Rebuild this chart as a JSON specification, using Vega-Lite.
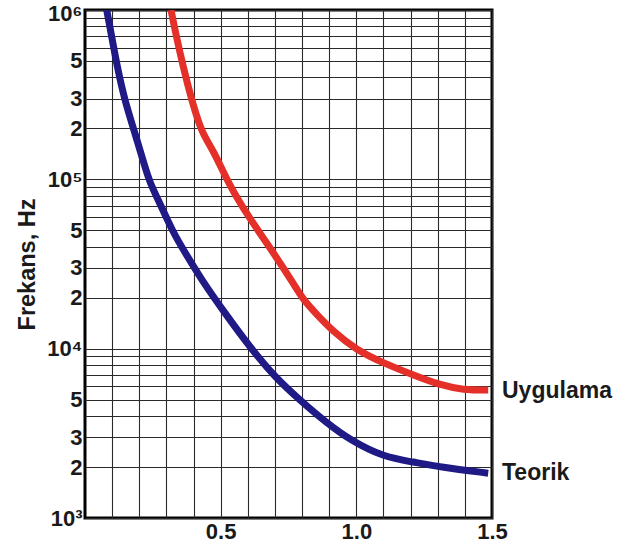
{
  "$schema": "https://vega.github.io/schema/vega-lite/v6.json",
  "width": 407,
  "height": 508,
  "autosize": {"type": "none"},
  "padding": {"left": 85, "top": 10, "right": 130, "bottom": 33},
  "background": "white",
  "config": {
    "font": "Liberation Sans",
    "view": {"stroke": "black", "strokeWidth": 3},
    "axis": {
      "domain": false,
      "ticks": false,
      "grid": true,
      "gridColor": "#2a2a2a",
      "gridWidth": 1.1,
      "tickCount": 200,
      "labelFont": "Liberation Sans",
      "labelFontWeight": "bold",
      "labelFontSize": 22,
      "labelColor": "#1a1a1a",
      "titleFont": "Liberation Sans",
      "titleFontWeight": "bold",
      "titleFontSize": 23.5,
      "titleColor": "#1a1a1a"
    }
  },
  "datasets": {
    "curves": [
      {"series": "Teorik", "d": 0.08, "f": 1000000},
      {"series": "Teorik", "d": 0.096, "f": 731000},
      {"series": "Teorik", "d": 0.119, "f": 460000},
      {"series": "Teorik", "d": 0.146, "f": 294000},
      {"series": "Teorik", "d": 0.184, "f": 187600},
      {"series": "Teorik", "d": 0.221, "f": 118200},
      {"series": "Teorik", "d": 0.24, "f": 95100},
      {"series": "Teorik", "d": 0.27, "f": 75500},
      {"series": "Teorik", "d": 0.326, "f": 48200},
      {"series": "Teorik", "d": 0.356, "f": 40000},
      {"series": "Teorik", "d": 0.43, "f": 25400},
      {"series": "Teorik", "d": 0.516, "f": 16200},
      {"series": "Teorik", "d": 0.608, "f": 10200},
      {"series": "Teorik", "d": 0.7, "f": 6790},
      {"series": "Teorik", "d": 0.792, "f": 4970},
      {"series": "Teorik", "d": 0.891, "f": 3640},
      {"series": "Teorik", "d": 0.977, "f": 2885},
      {"series": "Teorik", "d": 1.1, "f": 2290},
      {"series": "Teorik", "d": 1.21, "f": 2140},
      {"series": "Teorik", "d": 1.309, "f": 2000},
      {"series": "Teorik", "d": 1.486, "f": 1840},
      {"series": "Uygulama", "d": 0.317, "f": 1000000},
      {"series": "Uygulama", "d": 0.334, "f": 731000},
      {"series": "Uygulama", "d": 0.362, "f": 460000},
      {"series": "Uygulama", "d": 0.393, "f": 294000},
      {"series": "Uygulama", "d": 0.43, "f": 187600},
      {"series": "Uygulama", "d": 0.473, "f": 149000},
      {"series": "Uygulama", "d": 0.528, "f": 94700},
      {"series": "Uygulama", "d": 0.602, "f": 60200},
      {"series": "Uygulama", "d": 0.688, "f": 38200},
      {"series": "Uygulama", "d": 0.768, "f": 24300},
      {"series": "Uygulama", "d": 0.805, "f": 19370},
      {"series": "Uygulama", "d": 0.85, "f": 16200},
      {"series": "Uygulama", "d": 0.915, "f": 12600},
      {"series": "Uygulama", "d": 1.001, "f": 9810},
      {"series": "Uygulama", "d": 1.1, "f": 8220},
      {"series": "Uygulama", "d": 1.21, "f": 6980},
      {"series": "Uygulama", "d": 1.309, "f": 6100},
      {"series": "Uygulama", "d": 1.394, "f": 5700},
      {"series": "Uygulama", "d": 1.486, "f": 5700}
    ],
    "labels": [
      {"series": "Uygulama", "d": 1.5, "f": 5650},
      {"series": "Teorik", "d": 1.5, "f": 1840}
    ]
  },
  "layer": [
    {
      "data": {"name": "curves"},
      "mark": {"type": "line", "strokeWidth": 7, "interpolate": "basis", "clip": true},
      "encoding": {
        "x": {
          "field": "d", "type": "quantitative",
          "scale": {"domain": [0, 1.5], "nice": false, "zero": false},
          "axis": {
            "title": null,
            "values": [0.1, 0.2, 0.3, 0.4, 0.5, 0.6, 0.7, 0.8, 0.9, 1, 1.1, 1.2, 1.3, 1.4, 1.5],
            "labelExpr": "datum.value == 0.5 ? '0.5' : datum.value == 1 ? '1.0' : datum.value == 1.5 ? '1.5' : ''",
            "labelPadding": 3,
            "labelFlush": false,
            "labelOverlap": false
          }
        },
        "y": {
          "field": "f", "type": "quantitative",
          "scale": {"type": "log", "domain": [1000, 1000000], "nice": false},
          "axis": {
            "title": "Frekans, Hz",
            "titlePadding": 7,
            "values": [1000, 2000, 3000, 4000, 5000, 6000, 7000, 8000, 9000, 10000, 20000, 30000, 40000, 50000, 60000, 70000, 80000, 90000, 100000, 200000, 300000, 400000, 500000, 600000, 700000, 800000, 900000, 1000000],
            "labelExpr": "datum.value == 1000 ? '10³' : datum.value == 10000 ? '10⁴' : datum.value == 100000 ? '10⁵' : datum.value == 1000000 ? '10⁶' : indexof([2000, 20000, 200000], datum.value) >= 0 ? '2' : indexof([3000, 30000, 300000], datum.value) >= 0 ? '3' : indexof([5000, 50000, 500000], datum.value) >= 0 ? '5' : ''",
            "labelOffset": {"condition": {"test": "datum.value == 1000000", "value": 3}, "value": 0},
            "labelPadding": 3,
            "labelFlush": false,
            "labelOverlap": false
          }
        },
        "color": {
          "field": "series", "type": "nominal",
          "scale": {"domain": ["Uygulama", "Teorik"], "range": ["#e5302a", "#1f1a85"]},
          "legend": null
        }
      }
    },
    {
      "data": {"name": "labels"},
      "mark": {"type": "text", "align": "left", "baseline": "middle", "dx": 10, "fontSize": 23, "fontWeight": "bold", "font": "Liberation Sans", "color": "#1a1a1a"},
      "encoding": {
        "x": {"field": "d", "type": "quantitative"},
        "y": {"field": "f", "type": "quantitative"},
        "text": {"field": "series"}
      }
    }
  ]
}
